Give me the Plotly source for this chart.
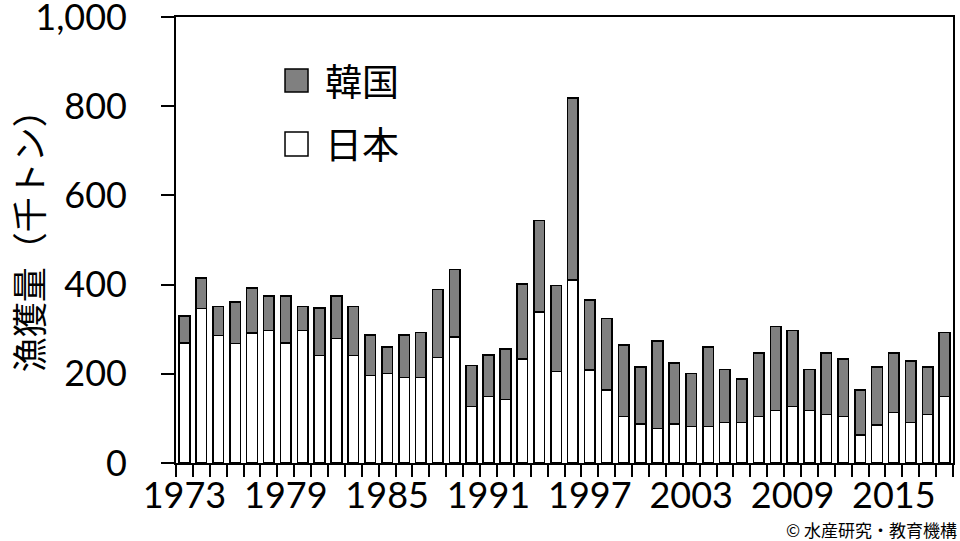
import plotly.graph_objects as go

years = [1973, 1974, 1975, 1976, 1977, 1978, 1979, 1980, 1981, 1982,
         1983, 1984, 1985, 1986, 1987, 1988, 1989, 1990, 1991, 1992,
         1993, 1994, 1995, 1996, 1997, 1998, 1999, 2000, 2001, 2002,
         2003, 2004, 2005, 2006, 2007, 2008, 2009, 2010, 2011, 2012,
         2013, 2014, 2015, 2016, 2017, 2018]

japan = [269, 346, 286, 268, 291, 297, 269, 297, 241, 279,
         241, 196, 201, 192, 192, 237, 282, 127, 149, 142,
         233, 338, 205, 410, 209, 164, 104, 87, 77, 87,
         82, 82, 91, 91, 104, 118, 127, 118, 109, 104,
         63, 85, 113, 91, 109, 149]

korea = [60, 69, 65, 93, 101, 77, 105, 54, 107, 95,
         110, 91, 59, 95, 101, 152, 152, 92, 93, 114,
         169, 206, 193, 408, 157, 160, 160, 128, 197, 137,
         119, 178, 119, 97, 142, 188, 170, 92, 137, 129,
         101, 130, 133, 138, 106, 144]

x_tick_labels = [1973, 1979, 1985, 1991, 1997, 2003, 2009, 2015]
y_tick_values = [0, 200, 400, 600, 800, 1000]

name_japan = "日本"
name_korea = "韓国"
y_title = "漁獲量（千トン）"
credit = "© 水産研究・教育機構"

FONT = "Lato, Noto Sans CJK JP, sans-serif"
CJK = "Noto Sans CJK JP, sans-serif"
GRAY = "#808080"

fig = go.Figure()
fig.add_trace(go.Bar(x=years, y=japan, name=name_japan,
                     marker=dict(color="white", line=dict(color="black", width=1.6)),
                     showlegend=False))
fig.add_trace(go.Bar(x=years, y=korea, name=name_korea,
                     marker=dict(color=GRAY, line=dict(color="black", width=1.6)),
                     showlegend=False))

fig.update_layout(
    width=960, height=541,
    margin=dict(l=176, r=7, t=17, b=78, autoexpand=False),
    paper_bgcolor="white", plot_bgcolor="white",
    barmode="stack", bargap=0.37,
    font=dict(family=FONT, size=37, color="black"),
)

fig.update_xaxes(
    range=[years[0] - 0.5, years[-1] + 0.5],
    tickmode="array", tickvals=x_tick_labels,
    ticks="",
    ticklabeloverflow="allow", automargin=False,
    tickfont=dict(family=FONT, size=36),
    minor=dict(tickmode="linear", tick0=years[0] - 0.5, dtick=1,
               ticks="outside", ticklen=12, tickwidth=1.5, tickcolor="black",
               showgrid=False),
    showline=True, linecolor="black", linewidth=1.6, mirror=True,
    showgrid=False, zeroline=False,
)

fig.update_yaxes(
    range=[0, 1000], tickmode="array", tickvals=y_tick_values,
    tickformat=",",
    ticks="outside", ticklen=13, tickwidth=1.5, tickcolor="black",
    ticklabelstandoff=27,
    ticklabeloverflow="allow", automargin=False,
    tickfont=dict(family=FONT, size=36),
    showline=True, linecolor="black", linewidth=1.6, mirror=True,
    showgrid=False, zeroline=False,
)

# y-axis title
fig.add_annotation(text=y_title, xref="paper", yref="paper",
                   x=0, y=0.495, xshift=-149, yshift=10,
                   xanchor="center", yanchor="middle",
                   textangle=-90, showarrow=False,
                   font=dict(family=CJK, size=35, color="black"))

# legend (manual, large swatches)
legend_items = [(name_korea, GRAY, 0.8318, 0.8834, 0.8587),
                (name_japan, "white", 0.6883, 0.7422, 0.7175)]
for label, col, y0, y1, yt in legend_items:
    fig.add_shape(type="rect", xref="paper", yref="paper",
                  x0=0.1403, x1=0.1699, y0=y0, y1=y1,
                  fillcolor=col, line=dict(color="black", width=1.5))
    fig.add_annotation(text=label, xref="paper", yref="paper",
                       x=0.1892, y=yt, xanchor="left", yanchor="middle",
                       showarrow=False,
                       font=dict(family=CJK, size=37, color="black"))

fig.add_annotation(text=credit, xref="paper", yref="paper",
                   x=1, y=-0.150, xshift=6, xanchor="right", yanchor="middle",
                   showarrow=False,
                   font=dict(family=CJK, size=17, color="black"))

fig.write_html("out.html",
               config={"displayModeBar": False},
               post_script="document.body.style.margin='0';document.body.style.overflow='hidden';")
